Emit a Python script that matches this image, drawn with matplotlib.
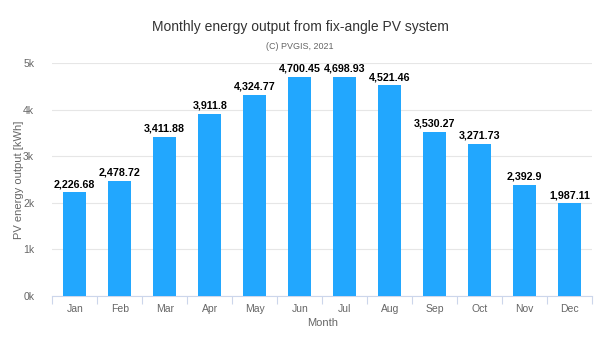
import matplotlib.pyplot as plt
from matplotlib.ticker import FuncFormatter

months = ['Jan', 'Feb', 'Mar', 'Apr', 'May', 'Jun', 'Jul', 'Aug', 'Sep', 'Oct', 'Nov', 'Dec']
output_kwh = [2226.68, 2478.72, 3411.88, 3911.8, 4324.77, 4700.45, 4698.93, 4521.46, 3530.27, 3271.73, 2392.9, 1987.11]
y_ticks = [0, 1000, 2000, 3000, 4000, 5000]

plt.rcParams['font.family'] = ['Liberation Sans', 'DejaVu Sans']

fig = plt.figure(figsize=(6, 3.41), dpi=100)
ax = fig.add_axes([0.087, 0.132, 0.9, 0.683])

x = list(range(len(months)))
ax.bar(x, output_kwh, width=0.5, color='#22a7fe', zorder=3)

# value labels above each bar
for xi, v in zip(x, output_kwh):
    ax.text(xi, v + 70, f'{v:,.2f}'.rstrip('0').rstrip('.'), ha='center', va='bottom',
            fontsize=7.7, fontweight='bold', color='black', zorder=4)

ax.set_xlim(-0.5, len(months) - 0.5)
ax.set_ylim(0, 5000)
ax.set_yticks(y_ticks)
ax.yaxis.set_major_formatter(FuncFormatter(lambda v, p: f'{int(v / 1000)}k'))
ax.grid(axis='y', color='#e6e6e6', linewidth=0.8, zorder=0)

ax.set_xticks(x)
ax.set_xticklabels(months)
ax.set_xticks([i - 0.5 for i in range(len(months) + 1)], minor=True)
ax.tick_params(axis='x', which='major', length=0, pad=6, labelsize=7.5, labelcolor='#666666')
ax.tick_params(axis='x', which='minor', length=6, color='#ccd6eb', width=0.8)
ax.tick_params(axis='y', length=0, pad=13, labelsize=7.5, labelcolor='#666666')

for side in ['top', 'right', 'left']:
    ax.spines[side].set_visible(False)
ax.spines['bottom'].set_color('#ccd6eb')
ax.spines['bottom'].set_linewidth(0.8)

ax.set_xlabel('Month', fontsize=8, color='#666666', labelpad=3)
ax.set_ylabel('PV energy output [kWh]', fontsize=8, color='#666666', labelpad=-1)

fig.text(0.5, 0.92, 'Monthly energy output from fix-angle PV system', ha='center', va='center',
         fontsize=10, color='#333333')
fig.text(0.5, 0.865, '(C) PVGIS, 2021', ha='center', va='center', fontsize=6.5, color='#666666')

fig.savefig('out.png', dpi=100)
